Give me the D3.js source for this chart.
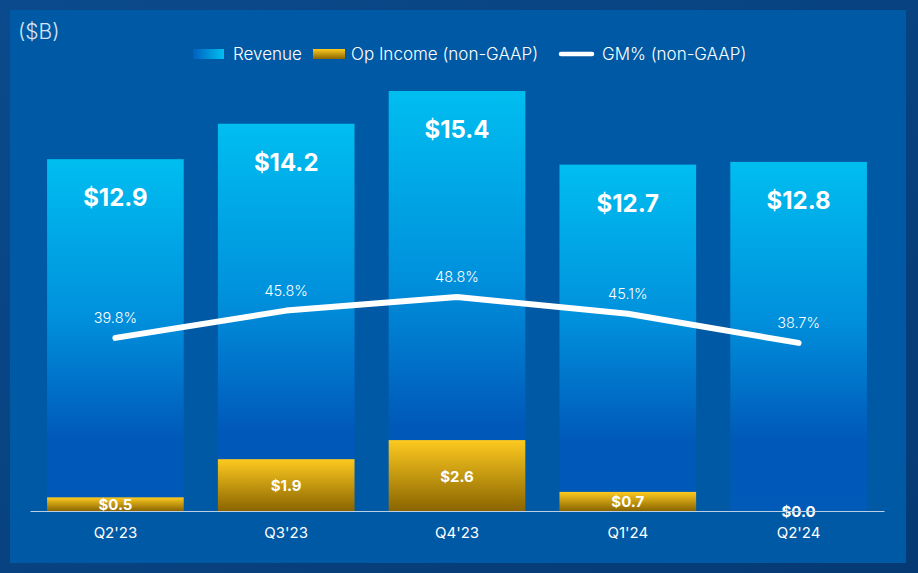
<!DOCTYPE html>
<html><head><meta charset="utf-8">
<script src="https://cdn.jsdelivr.net/npm/d3@7"></script>
<style>body{margin:0;background:#0a4582;}svg{display:block;font-family:Inter,"Open Sans",sans-serif;}</style>
</head><body>
<svg id="c" width="918" height="573"></svg>
<script>
const categories = ["Q2'23","Q3'23","Q4'23","Q1'24","Q2'24"];
const revenue = [12.9, 14.2, 15.4, 12.7, 12.8];
const opIncome = [0.5, 1.9, 2.6, 0.7, 0.0];
const gmPct = [39.8, 45.8, 48.8, 45.1, 38.7];
const revLabels = ["$12.9","$14.2","$15.4","$12.7","$12.8"];
const opLabels = ["$0.5","$1.9","$2.6","$0.7","$0.0"];
const gmLabels = ["39.8%","45.8%","48.8%","45.1%","38.7%"];

const svg = d3.select("#c");
const defs = svg.append("defs");
const og = defs.append("linearGradient").attr("id","outer").attr("x1",0).attr("y1",0).attr("x2",1).attr("y2",1);
og.append("stop").attr("offset","0%").attr("stop-color","#0b4a8c");
og.append("stop").attr("offset","100%").attr("stop-color","#053a74");
svg.append("rect").attr("width",918).attr("height",573).attr("fill","url(#outer)");
svg.append("rect").attr("x",10).attr("y",10).attr("width",896).attr("height",553).attr("fill","#0059a4");

const rg = defs.append("linearGradient").attr("id","rev").attr("x1",0).attr("y1",0).attr("x2",0).attr("y2",1);
rg.append("stop").attr("offset","0%").attr("stop-color","#00bef0");
rg.append("stop").attr("offset","45%").attr("stop-color","#0090dc");
rg.append("stop").attr("offset","80%").attr("stop-color","#0058b8");
rg.append("stop").attr("offset","100%").attr("stop-color","#005ab8");
const og2 = defs.append("linearGradient").attr("id","op").attr("x1",0).attr("y1",0).attr("x2",0).attr("y2",1);
og2.append("stop").attr("offset","0%").attr("stop-color","#fdca20");
og2.append("stop").attr("offset","100%").attr("stop-color","#8a6500");
const lg = defs.append("linearGradient").attr("id","revL").attr("x1",0).attr("y1",0).attr("x2",1).attr("y2",0);
lg.append("stop").attr("offset","0%").attr("stop-color","#0060c0");
lg.append("stop").attr("offset","100%").attr("stop-color","#00c0f0");

const x = d3.scaleBand().domain(categories).range([30, 884]).paddingInner(0.2).paddingOuter(0.1);
const y = d3.scaleLinear().domain([0, 15.4]).range([511, 91]);
const y2 = d3.scaleLinear().domain([0, 100]).range([519, 64]);

const g = svg.append("g");
g.selectAll(".rev").data(categories).join("rect")
  .attr("x", d => x(d)).attr("width", x.bandwidth())
  .attr("y", (d,i) => y(revenue[i])).attr("height", (d,i) => y(0) - y(revenue[i]))
  .attr("fill","url(#rev)");
g.selectAll(".op").data(categories).join("rect")
  .attr("x", d => x(d)).attr("width", x.bandwidth())
  .attr("y", (d,i) => y(opIncome[i])).attr("height", (d,i) => y(0) - y(opIncome[i]))
  .attr("fill","url(#op)");

// axis
const ax = svg.append("g").attr("transform","translate(0,511)").call(d3.axisBottom(x).tickSize(0).tickPadding(16));
ax.select(".domain").attr("stroke","#b9cfe6").attr("stroke-width",1.2);
ax.selectAll("text").attr("fill","#ffffff").attr("font-size",15).attr("font-family","Inter,sans-serif");

// revenue labels
g.selectAll(".rl").data(categories).join("text")
  .attr("x", d => x(d) + x.bandwidth()/2).attr("y", (d,i) => y(revenue[i]) + 47)
  .attr("text-anchor","middle").attr("fill","#fff").attr("font-size",24).attr("font-weight",700)
  .text((d,i) => revLabels[i]);
// op labels
g.selectAll(".ol").data(categories).join("text")
  .attr("x", d => x(d) + x.bandwidth()/2).attr("y", (d,i) => (y(opIncome[i]) + y(0))/2 + 6)
  .attr("text-anchor","middle").attr("fill","#fff").attr("font-size",15).attr("font-weight",700)
  .text((d,i) => opLabels[i]);

// GM line
const line = d3.line().x((d,i) => x(categories[i]) + x.bandwidth()/2).y(d => y2(d));
svg.append("path").datum(gmPct).attr("d", line).attr("fill","none")
  .attr("stroke","#fff").attr("stroke-width",6).attr("stroke-linecap","round").attr("stroke-linejoin","round");
svg.selectAll(".gl").data(gmPct).join("text")
  .attr("x", (d,i) => x(categories[i]) + x.bandwidth()/2).attr("y", d => y2(d) - 15)
  .attr("text-anchor","middle").attr("fill","#fff").attr("font-size",14.5).attr("font-weight",300)
  .text((d,i) => gmLabels[i]);

// units
svg.append("text").attr("x",18).attr("y",39).attr("fill","#d6e4f2").attr("font-size",21).attr("font-weight",300).text("($B)");

// legend
const leg = svg.append("g");
leg.append("rect").attr("x",193).attr("y",49).attr("width",31).attr("height",10).attr("fill","url(#revL)");
leg.append("text").attr("x",233).attr("y",60).attr("fill","#fff").attr("font-size",17).attr("font-weight",300).text("Revenue");
leg.append("rect").attr("x",313).attr("y",49).attr("width",32).attr("height",10).attr("fill","url(#op)");
leg.append("text").attr("x",351).attr("y",60).attr("fill","#fff").attr("font-size",17).attr("font-weight",300).text("Op Income (non-GAAP)");
leg.append("line").attr("x1",561).attr("x2",592).attr("y1",54).attr("y2",54).attr("stroke","#fff").attr("stroke-width",4.5).attr("stroke-linecap","round");
leg.append("text").attr("x",602).attr("y",60).attr("fill","#fff").attr("font-size",17).attr("font-weight",300).text("GM% (non-GAAP)");
</script>
</body></html>
